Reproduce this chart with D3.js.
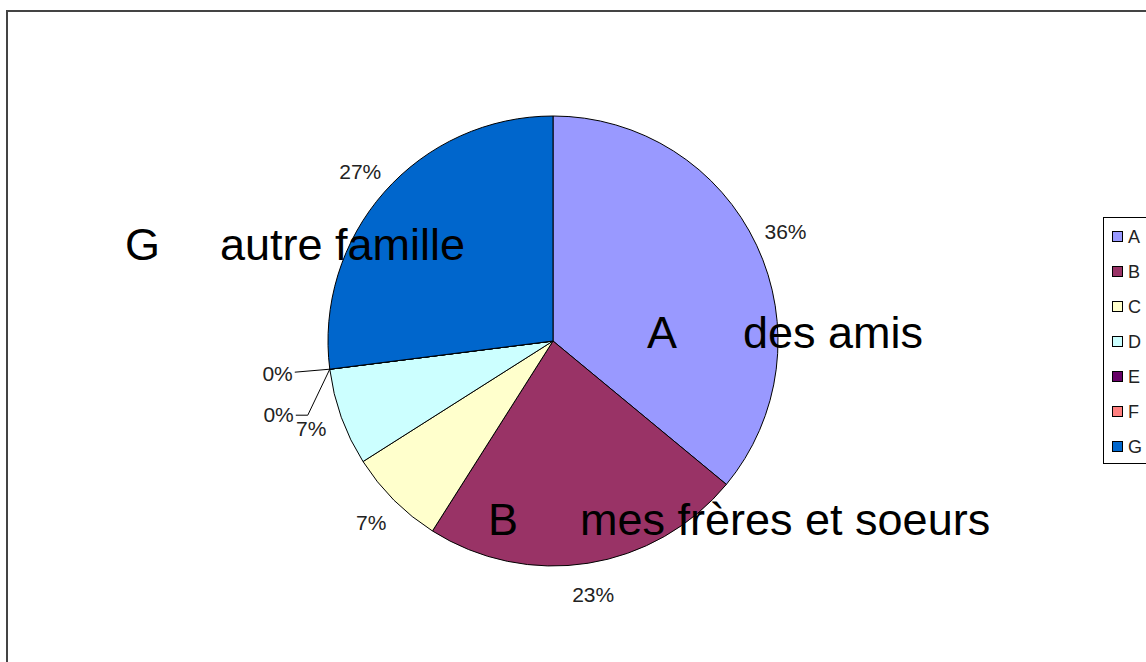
<!DOCTYPE html>
<html>
<head>
<meta charset="utf-8">
<script src="https://cdn.jsdelivr.net/npm/d3@7"></script>
<style>
  html, body { margin: 0; padding: 0; background: #fff; }
  svg { display: block; }
  text { font-family: "Liberation Sans", Arial, sans-serif; }
</style>
</head>
<body>
<svg id="chart" width="1146" height="662"></svg>
<script>
// ---- data ----
const categories = ["A", "B", "C", "D", "E", "F", "G"];
const values = [36, 23, 7, 7, 0, 0, 27];
const colors = ["#9999FF", "#993366", "#FFFFCC", "#CCFFFF", "#660066", "#FF8080", "#0066CC"];
const bigLetters = ["A", "B", "G"];
const bigDescriptions = ["des amis", "mes frères et soeurs", "autre famille"];

// ---- layout ----
const W = 1146, H = 662;
const cx = 553, cy = 341, R = 225, labelR = 257;
const svg = d3.select("#chart");

// frame
svg.append("rect")
  .attr("x", 7).attr("y", 11)
  .attr("width", W + 20).attr("height", H + 20)
  .attr("fill", "#fff").attr("stroke", "#444").attr("stroke-width", 2);

const pie = d3.pie().sort(null).value(d => d)(values);
const arc = d3.arc().innerRadius(0).outerRadius(R);
const g = svg.append("g").attr("transform", `translate(${cx},${cy})`);

g.selectAll("path.slice").data(pie).join("path")
  .attr("class", "slice")
  .attr("d", arc)
  .attr("fill", (d, i) => colors[i])
  .attr("stroke", "#000")
  .attr("stroke-width", 1)
  .attr("stroke-linejoin", "round");

// percent labels
const fmt = v => Math.round(v) + "%";
const total = d3.sum(values);
const pt = (a, r) => [Math.sin(a) * r, -Math.cos(a) * r];

let zeroIdx = 0;
pie.forEach((d, i) => {
  const pct = fmt(values[i] / total * 100);
  const mid = (d.startAngle + d.endAngle) / 2;
  if (values[i] > 0) {
    const [x, y] = pt(mid, labelR);
    g.append("text")
      .attr("x", x).attr("y", y)
      .attr("text-anchor", "middle").attr("dominant-baseline", "central")
      .attr("font-size", 21).attr("fill", "#222")
      .text(pct);
  } else {
    // leader lines for zero slices
    const [ex, ey] = pt(mid, R);
    let pts, lx, ly;
    if (zeroIdx === 0) {
      pts = [[ex, ey], [ex - 35, ey + 3]];
      lx = ex - 37; ly = ey + 4;
    } else {
      pts = [[ex, ey], [ex - 22, ey + 46], [ex - 34, ey + 46]];
      lx = ex - 36; ly = ey + 45;
    }
    zeroIdx++;
    g.append("path")
      .attr("d", d3.line()(pts))
      .attr("fill", "none").attr("stroke", "#000").attr("stroke-width", 1);
    g.append("text")
      .attr("x", lx).attr("y", ly)
      .attr("text-anchor", "end").attr("dominant-baseline", "central")
      .attr("font-size", 21).attr("fill", "#222")
      .text(pct);
  }
});

// big category text boxes
const bigPos = [[647, 348], [488, 535], [125, 260]];
const bigGap = [96, 92, 95];
bigLetters.forEach((L, i) => {
  const t = svg.append("text")
    .attr("font-size", 45).attr("fill", "#000")
    .attr("y", bigPos[i][1]);
  t.append("tspan").attr("x", bigPos[i][0]).text(L);
  t.append("tspan").attr("x", bigPos[i][0] + bigGap[i]).text(bigDescriptions[i]);
});

// legend
const lg = svg.append("g");
lg.append("rect")
  .attr("x", 1103.5).attr("y", 217.5)
  .attr("width", 60).attr("height", 246)
  .attr("fill", "#fff").attr("stroke", "#000").attr("stroke-width", 1);
const ly0 = 237, lstep = 35;
categories.forEach((c, i) => {
  lg.append("rect")
    .attr("x", 1112.5).attr("y", ly0 + i * lstep - 5.5)
    .attr("width", 10).attr("height", 10)
    .attr("fill", colors[i]).attr("stroke", "#000").attr("stroke-width", 1);
  lg.append("text")
    .attr("x", 1128).attr("y", ly0 + i * lstep)
    .attr("dominant-baseline", "central")
    .attr("font-size", 18).attr("fill", "#222")
    .text(c);
});
</script>
</body>
</html>
